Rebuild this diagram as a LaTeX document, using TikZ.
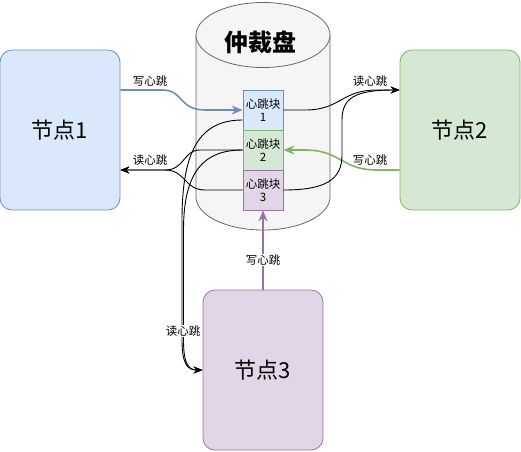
\documentclass[tikz,border=0pt]{standalone}
\usepackage{fontspec}
\setmainfont{Noto Sans CJK SC}
\usetikzlibrary{arrows.meta}
\definecolor{bluefill}{HTML}{DAE8FC}
\definecolor{bluedraw}{HTML}{6C8EBF}
\definecolor{greenfill}{HTML}{D5E8D4}
\definecolor{greendraw}{HTML}{82B366}
\definecolor{purplefill}{HTML}{E1D5E7}
\definecolor{purpledraw}{HTML}{9673A6}
\definecolor{diskfill}{HTML}{F5F5F5}
\definecolor{diskdraw}{HTML}{666666}
\tikzset{
  host/.style={draw, rounded corners=12pt, minimum width=120pt, minimum height=160pt,
    font=\fontsize{22}{26}\selectfont, line width=0.8pt},
  hb/.style={draw, minimum width=40pt, minimum height=40pt, inner sep=0pt, align=center,
    font=\fontsize{11.5}{13}\selectfont, line width=0.8pt},
  rd/.style={-{Stealth[length=9pt,width=7pt]}, line width=0.9pt},
  wr/.style={-{Stealth[length=11pt,width=9pt]}, line width=1.6pt},
  lbl/.style={inner sep=1pt, font=\fontsize{11.5}{13}\selectfont},
  lblbg/.style={lbl, fill=white},
}
\begin{document}
\begin{tikzpicture}[x=1pt, y=-1pt]
  \useasboundingbox (0,0) rectangle (521,451);
  % 仲裁盘
  \filldraw[fill=diskfill, draw=diskdraw, line width=0.8pt] (196,35) -- (196,197)
    arc[start angle=180, end angle=360, x radius=67pt, y radius=33pt] -- (330,35);
  \filldraw[fill=diskfill, draw=diskdraw, line width=0.8pt] (263,35) ellipse[x radius=67pt, y radius=32.5pt];
  \node[font=\bfseries\fontsize{24}{28}\selectfont] (disk) at (260,42) {仲裁盘};
  \node[hb, fill=bluefill, draw=bluedraw] (b1) at (263,110) {心跳块\\1};
  \node[hb, fill=greenfill, draw=greendraw] (b2) at (263,150) {心跳块\\2};
  \node[hb, fill=purplefill, draw=purpledraw] (b3) at (263,190) {心跳块\\3};
  % 节点
  \node[host, fill=bluefill, draw=bluedraw] (n1) at (60,130) {节点1};
  \node[host, fill=greenfill, draw=greendraw] (n2) at (460,130) {节点2};
  \node[host, fill=purplefill, draw=purpledraw] (n3) at (263,370) {节点3};
  % 写心跳
  \draw[wr, draw=bluedraw] ([yshift=40pt]n1.east) -- (163,90) .. controls (183,90) and (179,110) .. (205,110) -- (b1.west);
  \draw[wr, draw=greendraw] ([yshift=-40pt]n2.west) -- (377,170) .. controls (341,170) and (341,150) .. (305,150) -- (b2.east);
  \draw[wr, draw=purpledraw] (n3.north) -- (b3.south);
  % 读心跳
  \draw[rd] (b2.west) -- (200,150) .. controls (183,150) and (185,170) .. (165,170) -- ([yshift=-40pt]n1.east);
  \draw[rd] (b3.west) -- (205,190) .. controls (184,190) and (186,170) .. (165,170) -- ([yshift=-40pt]n1.east);
  \draw[rd] (b1.east) -- (305,110) .. controls (341,110) and (341,90) .. (377,90) -- ([yshift=40pt]n2.west);
  \draw[rd] (b3.east) .. controls (325,190) and (342,180) .. (342,155) -- (342,120) .. controls (342,98) and (355,90) .. ([yshift=40pt]n2.west);
  \draw[rd] ([yshift=-10pt]b1.west) .. controls (200,120) and (182,150) .. (182,220) -- (182,340) .. controls (182,365) and (188,370) .. (n3.west);
  \draw[rd] (b2.west) .. controls (205,150) and (183.5,170) .. (183.5,230) -- (183.5,340) .. controls (183.5,365) and (189,370) .. (n3.west);
  % labels
  \node[lbl] (w1) at (150,81) {写心跳};
  \node[lbl] (r1) at (150,160) {读心跳};
  \node[lbl] (r2) at (370,81) {读心跳};
  \node[lbl] (w2) at (370,160) {写心跳};
  \node[lblbg] (w3) at (263,260) {写心跳};
  \node[lblbg] (r3) at (183,331) {读心跳};
\end{tikzpicture}
\end{document}
